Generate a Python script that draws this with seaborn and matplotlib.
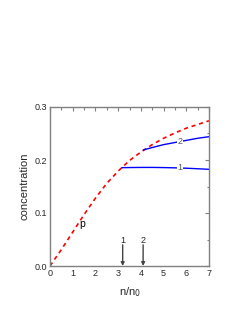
import matplotlib
matplotlib.use("Agg")
import matplotlib.pyplot as plt
import seaborn as sns
import pandas as pd
from matplotlib.ticker import MultipleLocator

# courbe p (pointillés rouges)
p_n = [0.0, 0.5, 1.0, 1.5, 2.0, 2.5, 3.0, 3.5, 4.0, 4.5, 5.0, 5.5, 6.0, 6.5, 7.0]
p_c = [0.0, 0.031, 0.064, 0.097, 0.128, 0.156, 0.179, 0.199, 0.215, 0.229, 0.241, 0.251, 0.260, 0.267, 0.274]

# branche 1
n1 = [3.16, 3.6, 4.0, 4.5, 5.0, 5.5, 6.0, 6.5, 7.0]
c1 = [0.1855, 0.1858, 0.186, 0.186, 0.1857, 0.1852, 0.1845, 0.1835, 0.1824]

# branche 2
n2 = [4.11, 4.5, 5.0, 5.5, 6.0, 6.5, 7.0]
c2 = [0.219, 0.2235, 0.229, 0.233, 0.237, 0.241, 0.244]

fleches_n = [3.2, 4.1]
fleches_lab = ["1", "2"]

sns.set_style("white")
plt.rcParams['font.family'] = ['Liberation Sans', 'DejaVu Sans']

fig = plt.figure(figsize=(2.45, 3.17), dpi=100)
ax = fig.add_axes([50 / 245, 1 - 266 / 317, 159 / 245, 159 / 317])

df_p = pd.DataFrame({"n": p_n, "c": p_c})
sns.lineplot(data=df_p, x="n", y="c", ax=ax, color="red", lw=1.2)
ax.lines[-1].set_linestyle((0, (2.5, 2.2)))

df1 = pd.DataFrame({"n": n1, "c": c1})
df2 = pd.DataFrame({"n": n2, "c": c2})
sns.lineplot(data=df1, x="n", y="c", ax=ax, color="blue", lw=1.0)
sns.lineplot(data=df2, x="n", y="c", ax=ax, color="blue", lw=1.0)

# étiquettes sur les courbes
for lab, y in [("1", 0.1855), ("2", 0.2346)]:
    ax.text(5.72, y, lab, fontsize=6.5, color="#555555", ha="center", va="center",
            bbox=dict(facecolor="white", edgecolor="none", pad=0.3))
ax.text(1.42, 0.079, "p", fontsize=7.5, color="black", ha="center", va="center")

for xn, lab in zip(fleches_n, fleches_lab):
    ax.annotate("", xy=(xn, 0.0), xytext=(xn, 0.04),
                arrowprops=dict(arrowstyle="-|>", color="#444444", lw=1.0,
                                mutation_scale=5, shrinkA=0, shrinkB=0))
    ax.text(xn, 0.048, lab, fontsize=6.5, ha="center", va="center")

ax.set_xlim(0, 7)
ax.set_ylim(0, 0.3)
ax.xaxis.set_major_locator(MultipleLocator(1))
ax.xaxis.set_minor_locator(MultipleLocator(0.5))
ax.yaxis.set_major_locator(MultipleLocator(0.1))
ax.yaxis.set_minor_locator(MultipleLocator(0.05))
ax.set_yticks([0.0, 0.1, 0.2, 0.3], ["0.0", "0.1", "0.2", "0.3"])
ax.tick_params(which="both", direction="in", top=True, right=True, color="#808080",
               labelsize=6.5, width=0.8, pad=2)
ax.tick_params(which="major", length=3)
ax.tick_params(which="minor", length=1.8)
for s in ax.spines.values():
    s.set_color("#808080")
    s.set_linewidth(1.0)

ax.set_xlabel("n/n$_0$", fontsize=8, labelpad=5)
ax.set_ylabel("concentration", fontsize=8, labelpad=4)

fig.savefig("out.png", dpi=100)
